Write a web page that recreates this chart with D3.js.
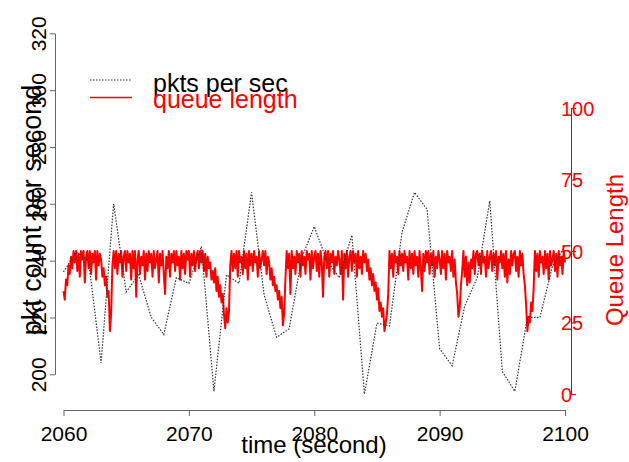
<!DOCTYPE html>
<html>
<head>
<meta charset="utf-8">
<script src="https://cdn.jsdelivr.net/npm/d3@7"></script>
<style>
  body { margin: 0; background: #fff; }
  svg { display: block; font-family: "Liberation Sans", Arial, sans-serif; }
</style>
</head>
<body>
<svg width="629" height="462"></svg>
<script>
// pkts per second, one sample a second from 2060 to 2100
const pktTimes = d3.range(2060, 2101);
const pktCounts = [
  236, 243, 240, 204, 260, 229, 235, 220, 214, 234,
  232, 245, 194, 235, 232, 264, 228, 213, 216, 241,
  252, 240, 234, 249, 193, 218, 217, 250, 264, 258,
  209, 203, 224, 234, 261, 201, 194, 220, 220, 238,
  245
];

// queue length, ten samples a second (row = one second)
const queueLen = [
  36,33,40,38,45,42,48,44,50,46,
  50,43,49,41,50,47,50,39,48,50,
  44,50,42,49,46,50,40,50,45,49,
  47,41,44,38,41,34,36,22,28,45,
  50,44,50,42,49,46,50,41,48,50,
  43,50,46,49,40,50,44,50,34,47,
  50,42,48,45,50,40,49,43,50,46,
  49,41,50,44,47,50,39,49,45,50,
  42,35,48,44,50,41,49,46,50,43,
  50,45,48,40,50,44,49,42,50,47,
  50,41,49,45,50,43,48,50,44,50,
  46,50,43,49,41,48,44,46,40,43,
  39,44,36,41,34,38,32,35,28,23,
  30,25,29,45,50,43,49,44,50,41,
  50,46,48,42,50,44,49,40,50,45,
  49,43,50,46,48,41,50,44,47,50,
  45,50,42,48,46,40,44,38,41,36,
  38,33,36,30,34,24,28,40,50,44,
  49,35,50,44,48,42,50,46,49,41,
  50,45,48,42,50,47,49,40,50,44,
  48,50,43,49,41,50,46,34,48,50,
  44,50,41,49,46,50,42,48,45,50,
  47,42,50,33,49,44,50,41,48,50,
  43,50,46,49,41,50,44,48,42,50,
  46,49,43,47,40,44,38,42,36,39,
  33,37,29,32,27,30,22,25,28,35,
  50,44,49,41,50,46,48,42,50,45,
  49,43,50,46,48,40,50,44,49,42,
  50,45,48,41,50,44,36,49,43,50,
  46,50,42,49,45,50,41,48,44,50,
  47,42,50,44,49,40,50,46,48,43,
  50,41,47,39,35,27,30,38,43,50,
  41,48,38,46,39,47,44,50,42,49,
  50,45,49,42,50,46,48,41,50,44,
  48,50,43,49,45,50,40,48,46,50,
  44,49,41,50,39,47,42,50,45,49,
  50,43,48,41,50,45,49,42,38,31,
  22,27,25,32,29,37,50,43,49,41,
  50,46,48,42,50,44,49,40,50,45,
  47,50,43,49,41,50,45,48,42,50,
  46
];

const xTicks = [2060, 2070, 2080, 2090, 2100];
const leftTicks = [200, 220, 240, 260, 280, 300, 320];
const rightTicks = [0, 25, 50, 75, 100];

const svg = d3.select("svg");

const x = d3.scaleLinear().domain([2060, 2100]).range([63.5, 565]);
const yL = d3.scaleLinear().domain([200, 320]).range([374.3, 33.3]);
const yR = d3.scaleLinear().domain([0, 100]).range([394, 108]);

// --- lines ---
const queueLine = d3.line()
  .x((d, i) => x(2060 + i / 10))
  .y(d => yR(d));

svg.append("path")
  .datum(queueLen)
  .attr("fill", "none")
  .attr("stroke", "#ff0000")
  .attr("stroke-width", 2)
  .attr("stroke-linejoin", "round")
  .attr("d", queueLine);

const pktLine = d3.line()
  .x((d, i) => x(pktTimes[i]))
  .y(d => yL(d));

svg.append("path")
  .datum(pktCounts)
  .attr("fill", "none")
  .attr("stroke", "#333")
  .attr("stroke-width", 1.2)
  .attr("stroke-dasharray", "1.5,1.5")
  .attr("d", pktLine);

// --- axes ---
const axisCol = "#666";

const gx = svg.append("g")
  .attr("transform", "translate(0,410)")
  .call(d3.axisBottom(x).tickValues(xTicks).tickFormat(d3.format("d")).tickSize(6).tickSizeOuter(0));
gx.selectAll("path, line").attr("stroke", axisCol);
gx.selectAll("text")
  .attr("y", 31).attr("dy", 0)
  .attr("font-size", 21).attr("fill", "#000");

const gl = svg.append("g")
  .attr("transform", "translate(55,0)")
  .call(d3.axisLeft(yL).tickValues(leftTicks).tickSize(5).tickSizeOuter(0));
gl.selectAll("path, line").attr("stroke", axisCol);
gl.selectAll("text")
  .attr("transform", "rotate(-90)")
  .attr("x", 0).attr("y", -9).attr("dy", 0)
  .attr("text-anchor", "middle")
  .attr("font-size", 21).attr("fill", "#000");

const gr = svg.append("g")
  .attr("transform", "translate(571,0)")
  .call(d3.axisRight(yR).tickValues(rightTicks).tickSize(5).tickSizeOuter(0));
gr.selectAll("path, line").attr("stroke", "#e00000");
gr.selectAll("text")
  .attr("x", -10).attr("dy", "0.36em")
  .attr("font-size", 20).attr("fill", "#ff0000");

// --- axis titles ---
svg.append("text")
  .attr("transform", "translate(41,210) rotate(-90)")
  .attr("text-anchor", "middle")
  .attr("font-size", 27)
  .text("pkt count per second");

svg.append("text")
  .attr("x", 314).attr("y", 453)
  .attr("text-anchor", "middle")
  .attr("font-size", 24)
  .text("time (second)");

svg.append("text")
  .attr("transform", "translate(623,250) rotate(-90)")
  .attr("text-anchor", "middle")
  .attr("font-size", 24)
  .attr("fill", "#ff0000")
  .text("Queue Length");

// --- legend ---
const legend = svg.append("g");
legend.append("line")
  .attr("x1", 90).attr("x2", 132).attr("y1", 80).attr("y2", 80)
  .attr("stroke", "#333").attr("stroke-width", 1.2).attr("stroke-dasharray", "1.5,1.5");
legend.append("line")
  .attr("x1", 90).attr("x2", 132).attr("y1", 97.5).attr("y2", 97.5)
  .attr("stroke", "#ff0000").attr("stroke-width", 1.3);
legend.append("text")
  .attr("x", 153).attr("y", 91.5)
  .attr("font-size", 25)
  .text("pkts per sec");
legend.append("text")
  .attr("x", 153).attr("y", 107.5)
  .attr("font-size", 25).attr("fill", "#ff0000")
  .text("queue length");
</script>
</body>
</html>
